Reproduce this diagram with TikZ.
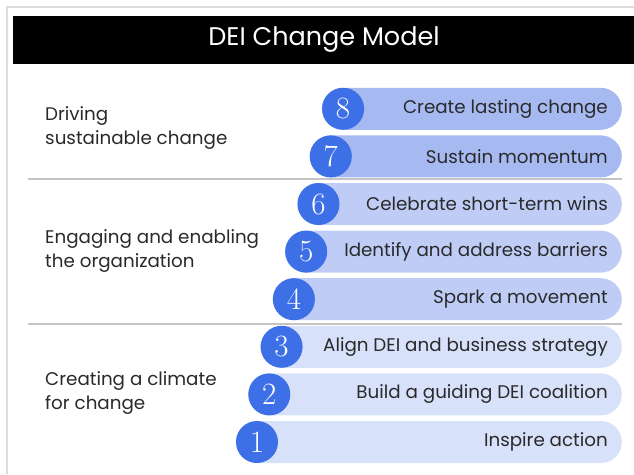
\documentclass[tikz,border=0pt]{standalone}
\usepackage{fontspec}
\newfontfamily\pop{Poppins}
\definecolor{framecol}{HTML}{DCDCDC}
\definecolor{sepcol}{HTML}{C4C4C4}
\definecolor{circcol}{HTML}{3D6FE6}
\definecolor{pillA}{HTML}{A7B9F1}
\definecolor{pillB}{HTML}{BFCDF6}
\definecolor{pillC}{HTML}{D8E1FA}
\definecolor{txtcol}{HTML}{2A2A2A}
\tikzset{
  pill/.style={rectangle, rounded corners=21pt, minimum height=42pt, inner sep=0pt, anchor=east},
  numdot/.style={circle, fill=circcol, minimum size=42pt, inner sep=0pt, text=white, font=\fontsize{31}{31}\selectfont},
  pilltext/.style={anchor=east, text=txtcol, font=\pop\fontsize{18.3}{20}\selectfont, inner sep=0pt},
  seclabel/.style={anchor=west, align=left, text=txtcol, font=\pop\fontsize{18.3}{23.5}\selectfont, inner sep=0pt},
  sepline/.style={draw=sepcol, line width=1.2pt}
}
\begin{document}
\begin{tikzpicture}[x=1pt,y=-1pt]
\useasboundingbox (0,0) rectangle (634,474);
\fill[white] (0,0) rectangle (634,474);
% frame
\draw[framecol, line width=1.5pt] (7,474) -- (7,7) -- (634,7);
% title bar
\fill[black] (13,16) rectangle (634,64);
\node[text=white, font=\pop\fontsize{25.5}{28}\selectfont] (title) at (324,40) {DEI Change Model};
% separators
\draw[sepline] (28,179) -- (622,179);
\draw[sepline] (28,324) -- (622,324);
% section labels
\node[seclabel] (s3) at (45,128) {Driving\\sustainable change};
\node[seclabel] (s2) at (45,251) {Engaging and enabling\\the organization};
\node[seclabel] (s1) at (45,393) {Creating a climate\\for change};
% steps
\foreach \k/\col/\txt in {
  1/pillC/Inspire action,
  2/pillC/Build a guiding DEI coalition,
  3/pillC/Align DEI and business strategy,
  4/pillB/Spark a movement,
  5/pillB/Identify and address barriers,
  6/pillB/Celebrate short-term wins,
  7/pillA/Sustain momentum,
  8/pillA/Create lasting change}{
  \pgfmathsetmacro{\cx}{257+(\k-1)*12.3}
  \pgfmathsetmacro{\cy}{442-(\k-1)*47.6}
  \pgfmathsetmacro{\pw}{622-\cx+21}
  \node[pill, fill=\col, minimum width=\pw pt] (p\k) at (622,\cy) {};
  \node[pilltext] (t\k) at (608,\cy) {\txt};
  \node[numdot] (n\k) at (\cx,\cy) {\k};
}
\end{tikzpicture}
\end{document}
